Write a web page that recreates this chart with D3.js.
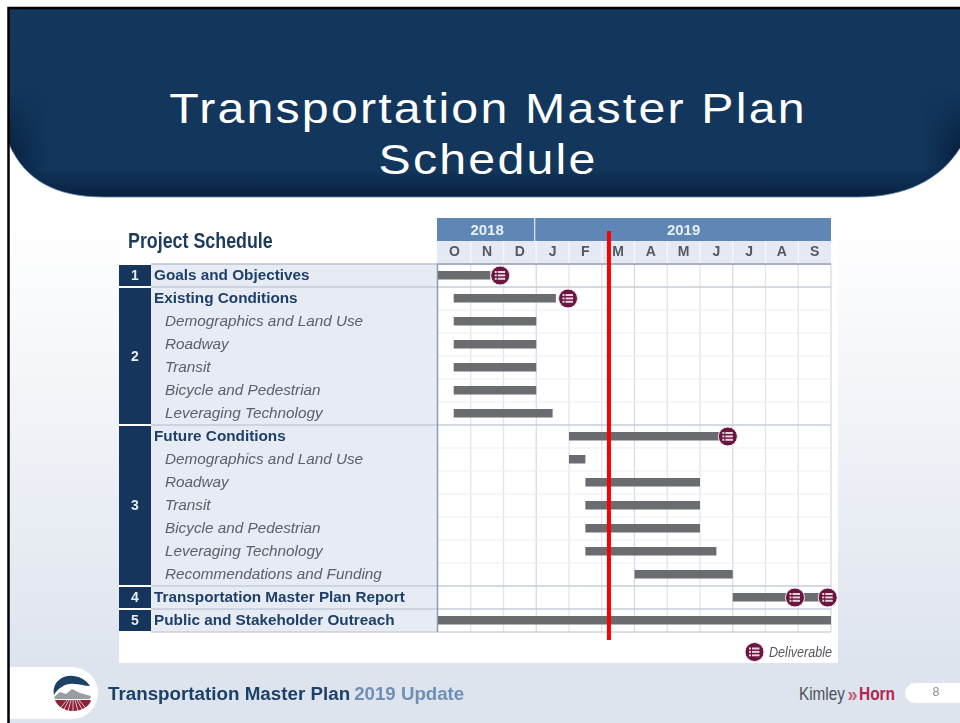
<!DOCTYPE html>
<html>
<head>
<meta charset="utf-8">
<script src="https://cdnjs.cloudflare.com/ajax/libs/d3/7.8.5/d3.min.js"></script>
<style>
  html, body { margin: 0; padding: 0; background: #fff; overflow: hidden; }
  svg { display: block; }
  text { font-family: "Liberation Sans", Arial, sans-serif; }
</style>
</head>
<body>
<script>
//chart values
const years = ['2018', '2019']
const yearSpans = [3, 9]
const months = ['O', 'N', 'D', 'J', 'F', 'M', 'A', 'M', 'J', 'J', 'A', 'S']
const tasks = ['Goals and Objectives', 'Existing Conditions', 'Demographics and Land Use', 'Roadway', 'Transit',
  'Bicycle and Pedestrian', 'Leveraging Technology', 'Future Conditions', 'Demographics and Land Use', 'Roadway',
  'Transit', 'Bicycle and Pedestrian', 'Leveraging Technology', 'Recommendations and Funding',
  'Transportation Master Plan Report', 'Public and Stakeholder Outreach']
const taskGroups = [1, 2, 2, 2, 2, 2, 2, 3, 3, 3, 3, 3, 3, 3, 4, 5]
const isSubtask = [0, 0, 1, 1, 1, 1, 1, 0, 1, 1, 1, 1, 1, 1, 0, 0]
//bars in months since the start of October 2018
const barStarts = [0, 0.48, 0.48, 0.48, 0.48, 0.48, 0.48, 4, 4, 4.5, 4.5, 4.5, 4.5, 6, 9, 0]
const barEnds = [1.6, 3.6, 3, 3, 3, 3, 3.5, 8.6, 4.5, 8, 8, 8, 8.5, 9, 11.9, 12]
const deliverableRows = [0, 1, 7, 14, 14]
const deliverableMonths = [1.9, 3.97, 8.85, 10.9, 11.9]
const todayMonth = 5.22

const width = 960
const height = 723

const x = d3.scaleLinear().domain([0, 12]).range([438, 831])
const monthBand = d3.scaleBand().domain(d3.range(months.length)).range([438, 831])
const y = d3.scaleBand().domain(d3.range(tasks.length)).range([264, 632])

const navy = '#12365c'
const maroon = '#6b1240'
const barGrey = '#6a6c70'

const svg = d3.select('body').append('svg')
  .attr('width', width)
  .attr('height', height)

const defs = svg.append('defs')

const bgGrad = defs.append('linearGradient').attr('id', 'bg').attr('x2', 0).attr('y2', 1)
bgGrad.append('stop').attr('offset', 0.3).attr('stop-color', '#ffffff')
bgGrad.append('stop').attr('offset', 0.92).attr('stop-color', '#dee4ee')

const bannerGrad = defs.append('linearGradient').attr('id', 'banner').attr('x2', 0).attr('y2', 1)
bannerGrad.append('stop').attr('offset', 0).attr('stop-color', '#14375c')
bannerGrad.append('stop').attr('offset', 0.85).attr('stop-color', '#12365c')
bannerGrad.append('stop').attr('offset', 1).attr('stop-color', '#07203f')

//darker sides of the banner, only towards its curved bottom
const edgeGrad = defs.append('linearGradient').attr('id', 'bannerEdge')
edgeGrad.append('stop').attr('offset', 0).attr('stop-color', '#031a36').attr('stop-opacity', 0.7)
edgeGrad.append('stop').attr('offset', 0.04).attr('stop-color', '#031a36').attr('stop-opacity', 0)
edgeGrad.append('stop').attr('offset', 0.96).attr('stop-color', '#031a36').attr('stop-opacity', 0)
edgeGrad.append('stop').attr('offset', 1).attr('stop-color', '#031a36').attr('stop-opacity', 0.7)

const fadeGrad = defs.append('linearGradient').attr('id', 'edgeFade').attr('x2', 0).attr('y2', 1)
fadeGrad.append('stop').attr('offset', 0.45).attr('stop-color', '#000')
fadeGrad.append('stop').attr('offset', 0.75).attr('stop-color', '#fff')
defs.append('mask').attr('id', 'edgeMask')
  .attr('maskUnits', 'userSpaceOnUse')
  .attr('x', 0).attr('y', 0).attr('width', width).attr('height', 200)
  .append('rect').attr('width', width).attr('height', 200).attr('fill', 'url(#edgeFade)')

defs.append('filter').attr('id', 'soft')
  .append('feGaussianBlur').attr('stdDeviation', 0.45)

//slide background
svg.append('rect').attr('x', 8).attr('y', 8).attr('width', width - 8).attr('height', height - 8).attr('fill', 'url(#bg)')

//banner
const bannerPath = 'M9,9 H960 V148 C940,180 905,197 858,197 H104 C55,197 25,180 9,144 Z'
svg.append('path').attr('d', bannerPath).attr('fill', 'url(#banner)')
svg.append('path').attr('d', bannerPath).attr('fill', 'url(#bannerEdge)').attr('mask', 'url(#edgeMask)')
svg.append('path')
  .attr('d', 'M9,144 C25,180 55,197 104,197 H858 C905,197 940,180 960,148')
  .attr('fill', 'none')
  .attr('stroke', '#5f83a8')
  .attr('stroke-width', 0.8)

svg.append('text')
  .attr('transform', 'translate(488,123) scale(1.15,1)')
  .attr('text-anchor', 'middle')
  .attr('font-size', 42)
  .attr('letter-spacing', 1.9)
  .attr('fill', '#fff')
  .text('Transportation Master Plan')
svg.append('text')
  .attr('transform', 'translate(488,174) scale(1.15,1)')
  .attr('text-anchor', 'middle')
  .attr('font-size', 42)
  .attr('letter-spacing', 1.9)
  .attr('fill', '#fff')
  .text('Schedule')

//white panel behind the chart
svg.append('rect').attr('x', 119).attr('y', 214).attr('width', 719).attr('height', 449).attr('fill', '#fff')

const chart = svg.append('g').attr('filter', 'url(#soft)')

chart.append('text')
  .attr('transform', 'translate(128,247.5) scale(0.83,1)')
  .attr('font-size', 21.5)
  .attr('font-weight', 'bold')
  .attr('fill', '#1d3a5e')
  .text('Project Schedule')

//year band
let yearStart = 0
years.forEach((yr, i) => {
  const yearEnd = yearStart + yearSpans[i]
  chart.append('rect')
    .attr('x', x(yearStart) - 1)
    .attr('y', 218)
    .attr('width', x(yearEnd) - x(yearStart) + (i === 0 ? -1 : 1))
    .attr('height', 23)
    .attr('fill', '#5f87b6')
  chart.append('text')
    .attr('x', (x(yearStart) + x(yearEnd)) / 2)
    .attr('y', 234.5)
    .attr('text-anchor', 'middle')
    .attr('font-size', 15)
    .attr('font-weight', 'bold')
    .attr('fill', '#e8eef6')
    .text(yr)
  yearStart = yearEnd
})

//month band
chart.append('rect').attr('x', 437).attr('y', 241).attr('width', 394).attr('height', 22).attr('fill', '#e4e9f3')
const monthAxis = d3.axisBottom(monthBand).tickSize(0).tickFormat((d) => months[d])
const monthG = chart.append('g').attr('transform', 'translate(0,241)').call(monthAxis)
monthG.select('.domain').remove()
monthG.selectAll('text')
  .attr('y', 5.5)
  .attr('font-family', '"Liberation Sans", Arial, sans-serif')
  .attr('font-size', 14)
  .attr('font-weight', 'bold')
  .attr('fill', '#55585e')
chart.selectAll('.monthTick')
  .data(d3.range(1, 12))
  .enter()
  .append('line')
  .attr('class', 'monthTick')
  .attr('x1', (d) => x(d)).attr('x2', (d) => x(d))
  .attr('y1', 241).attr('y2', 263)
  .attr('stroke', '#f4f6fa')
  .attr('stroke-width', 1.5)

//label column
chart.append('rect')
  .attr('x', 151).attr('y', y(0))
  .attr('width', 286).attr('height', y.range()[1] - y(0))
  .attr('fill', '#e6ebf4')

//grid
chart.selectAll('.vGrid')
  .data(d3.range(1, 13))
  .enter()
  .append('line')
  .attr('class', 'vGrid')
  .attr('x1', (d) => x(d)).attr('x2', (d) => x(d))
  .attr('y1', y(0)).attr('y2', y.range()[1])
  .attr('stroke', (d) => d % 3 === 0 ? '#d8dbe4' : '#e3e5ec')
  .attr('stroke-width', 1.3)

chart.selectAll('.hGrid')
  .data(d3.range(1, tasks.length))
  .enter()
  .append('line')
  .attr('class', 'hGrid')
  .attr('x1', 151).attr('x2', 831)
  .attr('y1', (d) => y(d)).attr('y2', (d) => y(d))
  .attr('stroke', (d) => taskGroups[d] !== taskGroups[d - 1] ? '#c6ccd9' : '#eceef3')
  .attr('stroke-width', (d) => taskGroups[d] !== taskGroups[d - 1] ? 1.5 : 1.2)

chart.append('line')
  .attr('x1', 437).attr('x2', 831)
  .attr('y1', 264).attr('y2', 264)
  .attr('stroke', '#8c99ae')
  .attr('stroke-width', 1.5)
chart.append('line')
  .attr('x1', 151).attr('x2', 437)
  .attr('y1', 264).attr('y2', 264)
  .attr('stroke', '#b9c3d3')
  .attr('stroke-width', 1.5)
chart.append('line')
  .attr('x1', 151).attr('x2', 831)
  .attr('y1', 632).attr('y2', 632)
  .attr('stroke', '#b9c0ce')
  .attr('stroke-width', 1.2)
chart.append('line')
  .attr('x1', 437.5).attr('x2', 437.5)
  .attr('y1', 264).attr('y2', 632)
  .attr('stroke', '#8f9db2')
  .attr('stroke-width', 1.5)

//group number cells
const groupRows = d3.group(d3.range(tasks.length), (i) => taskGroups[i])
groupRows.forEach((rows, grp) => {
  const top = y(rows[0])
  const bottom = y(rows[rows.length - 1]) + y.bandwidth()
  chart.append('rect')
    .attr('x', 119).attr('y', top + 1)
    .attr('width', 32).attr('height', bottom - top - 2)
    .attr('fill', navy)
  chart.append('text')
    .attr('x', 135).attr('y', (top + bottom) / 2 + 4.5)
    .attr('text-anchor', 'middle')
    .attr('font-size', 14)
    .attr('font-weight', 'bold')
    .attr('fill', '#e9edf3')
    .text(grp)
})

//task labels
chart.selectAll('.task')
  .data(tasks)
  .enter()
  .append('text')
  .attr('class', 'task')
  .attr('x', (d, i) => isSubtask[i] ? 165 : 154)
  .attr('y', (d, i) => y(i) + y.bandwidth() / 2 + 4.5)
  .attr('font-size', 15.3)
  .attr('font-weight', (d, i) => isSubtask[i] ? 'normal' : 'bold')
  .attr('font-style', (d, i) => isSubtask[i] ? 'italic' : 'normal')
  .attr('fill', (d, i) => isSubtask[i] ? '#5c6068' : '#1f4069')
  .text((d) => d)

//bars
chart.selectAll('.bar')
  .data(tasks)
  .enter()
  .append('rect')
  .attr('class', 'bar')
  .attr('x', (d, i) => x(barStarts[i]))
  .attr('y', (d, i) => y(i) + y.bandwidth() / 2 - 4.5)
  .attr('width', (d, i) => x(barEnds[i]) - x(barStarts[i]))
  .attr('height', 8.5)
  .attr('fill', barGrey)

//deliverable marker, a disc with a small list on it
function drawMarker(parent, cx, cy) {
  const g = parent.append('g').attr('transform', 'translate(' + cx + ',' + cy + ')')
  g.append('circle').attr('r', 9.5).attr('fill', maroon).attr('stroke', '#f3e9ee').attr('stroke-width', 1)
  d3.range(3).forEach((k) => {
    g.append('rect').attr('x', -5.5).attr('y', -4.5 + k * 3.4).attr('width', 2).attr('height', 2).attr('fill', '#e8d3dd')
    g.append('rect').attr('x', -2.5).attr('y', -4.5 + k * 3.4).attr('width', 7.5).attr('height', 2).attr('fill', '#e8d3dd')
  })
}

deliverableRows.forEach((row, i) => {
  drawMarker(chart, x(deliverableMonths[i]), y(row) + y.bandwidth() / 2)
})

//legend
drawMarker(chart, 754.5, 652)
chart.append('text')
  .attr('transform', 'translate(769,657) scale(0.87,1)')
  .attr('font-size', 14.5)
  .attr('font-style', 'italic')
  .attr('fill', '#55585e')
  .text('Deliverable')

//red line for the current date
svg.append('line')
  .attr('x1', x(todayMonth)).attr('x2', x(todayMonth))
  .attr('y1', 231).attr('y2', 640)
  .attr('stroke', '#fb0000')
  .attr('stroke-width', 4)

//footer tab and logo
svg.append('path')
  .attr('d', 'M10,667 H72 A26,26 0 0 1 72,719 H10 Z')
  .attr('fill', '#fff')
svg.append('path')
  .attr('d', 'M90,686 C84,676 68,672 59,680 C54,684 53,690 54,695 C58,688 66,683 74,684 C80,684 85,686 90,686 Z')
  .attr('fill', '#1d4167')
svg.append('path')
  .attr('d', 'M54,697 L60,692 L66,694 L72,689 L80,693 L91,696 L90,699 H55 Z')
  .attr('fill', '#9a9ea3')
svg.append('path')
  .attr('d', 'M55,700 H91 C90,706 82,711 73,711 C64,711 57,706 55,700 Z')
  .attr('fill', '#8c2338')
//furrows on the field of the logo
d3.range(-3, 4).forEach((k) => {
  svg.append('line')
    .attr('x1', 73 + k * 2).attr('y1', 700)
    .attr('x2', 73 + k * 5).attr('y2', 711)
    .attr('stroke', '#fff')
    .attr('stroke-width', 0.7)
})

const footer = svg.append('text')
  .attr('x', 108).attr('y', 700)
  .attr('font-family', '"Open Sans", sans-serif')
  .attr('font-size', 18.8)
  .attr('font-weight', 'bold')
footer.append('tspan').attr('fill', '#1d4069').text('Transportation Master Plan')
footer.append('tspan').attr('dx', 4).attr('font-size', 18.7).attr('fill', '#6f8fb6').text('2019 Update')

//company wordmark
svg.append('text')
  .attr('transform', 'translate(799,700) scale(0.85,1)')
  .attr('font-size', 18)
  .attr('fill', '#4c5159')
  .text('Kimley')
svg.append('text')
  .attr('transform', 'translate(847.5,701) scale(0.9,1)')
  .attr('font-size', 20)
  .attr('font-weight', 'bold')
  .attr('fill', '#c4607c')
  .text('»')
svg.append('text')
  .attr('transform', 'translate(859,700) scale(0.86,1)')
  .attr('font-size', 18)
  .attr('font-weight', 'bold')
  .attr('fill', '#b3264f')
  .text('Horn')

svg.append('path')
  .attr('d', 'M960,683 H915 A10,10 0 0 0 915,703 H960 Z')
  .attr('fill', '#fff')
svg.append('text')
  .attr('x', 936).attr('y', 696)
  .attr('text-anchor', 'middle')
  .attr('font-size', 12.5)
  .attr('fill', '#8a8d93')
  .text('8')

//black slide border on top of everything
svg.append('path')
  .attr('d', 'M8.5,723 V8 H960')
  .attr('fill', 'none')
  .attr('stroke', '#000')
  .attr('stroke-width', 2.5)
</script>
</body>
</html>
